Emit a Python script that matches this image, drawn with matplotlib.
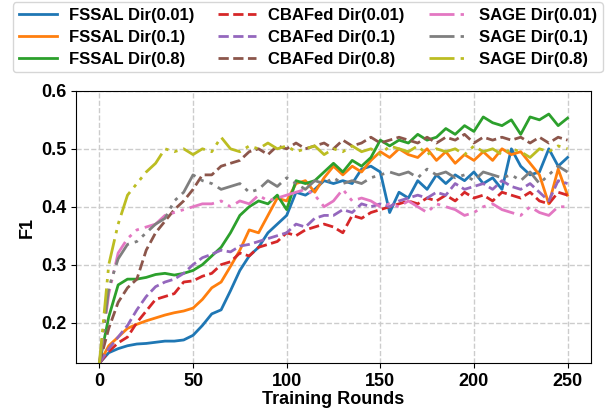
import numpy as np
import matplotlib
matplotlib.use("Agg")
import matplotlib.pyplot as plt

plt.rcParams['font.family'] = ['Liberation Sans', 'DejaVu Sans']
plt.rcParams['font.weight'] = 'bold'

rounds = list(range(0, 251, 5))

fssal_001 = [0.13, 0.148, 0.155, 0.160, 0.163, 0.164, 0.166, 0.168, 0.168, 0.170,
             0.178, 0.195, 0.215, 0.222, 0.255, 0.29, 0.315, 0.33, 0.355, 0.37,
             0.385, 0.425, 0.42, 0.43, 0.445, 0.44, 0.445, 0.44, 0.465, 0.47,
             0.46, 0.39, 0.425, 0.415, 0.445, 0.43, 0.455, 0.44, 0.455, 0.445,
             0.46, 0.44, 0.45, 0.43, 0.50, 0.47, 0.455, 0.46, 0.50, 0.47, 0.485]
fssal_01 = [0.13, 0.16, 0.175, 0.19, 0.197, 0.203, 0.208, 0.213, 0.217, 0.22,
            0.225, 0.24, 0.26, 0.27, 0.297, 0.325, 0.36, 0.355, 0.385, 0.415,
            0.41, 0.44, 0.445, 0.425, 0.45, 0.47, 0.455, 0.47, 0.46, 0.48,
            0.495, 0.485, 0.50, 0.49, 0.485, 0.50, 0.48, 0.495, 0.475, 0.49,
            0.48, 0.495, 0.48, 0.50, 0.49, 0.495, 0.475, 0.455, 0.405, 0.465, 0.42]
fssal_08 = [0.13, 0.21, 0.265, 0.275, 0.275, 0.278, 0.283, 0.285, 0.282, 0.285,
            0.29, 0.30, 0.315, 0.33, 0.355, 0.385, 0.40, 0.41, 0.405, 0.42,
            0.395, 0.445, 0.44, 0.445, 0.46, 0.475, 0.46, 0.48, 0.47, 0.485,
            0.515, 0.505, 0.515, 0.51, 0.525, 0.515, 0.52, 0.535, 0.525, 0.54,
            0.53, 0.555, 0.545, 0.54, 0.55, 0.525, 0.555, 0.55, 0.56, 0.54, 0.553]
cbafed_001 = [0.13, 0.15, 0.165, 0.175, 0.20, 0.22, 0.24, 0.245, 0.25, 0.27,
              0.272, 0.28, 0.285, 0.30, 0.305, 0.32, 0.315, 0.33, 0.335, 0.34,
              0.355, 0.35, 0.36, 0.365, 0.37, 0.365, 0.355, 0.385, 0.38, 0.39,
              0.395, 0.40, 0.405, 0.41, 0.405, 0.415, 0.41, 0.42, 0.41, 0.425,
              0.415, 0.42, 0.41, 0.425, 0.42, 0.415, 0.425, 0.41, 0.405, 0.425, 0.42]
cbafed_01 = [0.13, 0.155, 0.175, 0.195, 0.222, 0.245, 0.262, 0.27, 0.275, 0.285,
             0.30, 0.312, 0.318, 0.325, 0.322, 0.332, 0.335, 0.34, 0.345, 0.35,
             0.355, 0.37, 0.365, 0.38, 0.385, 0.385, 0.395, 0.39, 0.405, 0.40,
             0.405, 0.40, 0.41, 0.415, 0.42, 0.415, 0.425, 0.42, 0.44, 0.43,
             0.435, 0.44, 0.43, 0.445, 0.435, 0.43, 0.44, 0.425, 0.41, 0.445, 0.44]
cbafed_08 = [0.13, 0.19, 0.235, 0.26, 0.275, 0.325, 0.355, 0.375, 0.395, 0.41,
             0.43, 0.455, 0.455, 0.47, 0.475, 0.48, 0.495, 0.50, 0.49, 0.505,
             0.50, 0.51, 0.50, 0.505, 0.51, 0.50, 0.515, 0.505, 0.51, 0.52,
             0.51, 0.515, 0.52, 0.515, 0.51, 0.52, 0.51, 0.52, 0.515, 0.525,
             0.51, 0.52, 0.515, 0.52, 0.515, 0.52, 0.51, 0.52, 0.51, 0.52, 0.515]
sage_001 = [0.13, 0.25, 0.32, 0.345, 0.36, 0.365, 0.37, 0.385, 0.39, 0.395,
            0.40, 0.405, 0.405, 0.41, 0.40, 0.41, 0.405, 0.42, 0.41, 0.415,
            0.42, 0.425, 0.43, 0.42, 0.40, 0.41, 0.43, 0.41, 0.415, 0.41,
            0.40, 0.405, 0.40, 0.41, 0.40, 0.39, 0.405, 0.40, 0.395, 0.385,
            0.39, 0.40, 0.405, 0.395, 0.39, 0.385, 0.40, 0.39, 0.385, 0.40, 0.40]
sage_01 = [0.13, 0.26, 0.31, 0.335, 0.34, 0.355, 0.37, 0.38, 0.41, 0.425,
           0.455, 0.445, 0.44, 0.43, 0.435, 0.44, 0.425, 0.43, 0.445, 0.435,
           0.45, 0.44, 0.43, 0.445, 0.44, 0.45, 0.44, 0.445, 0.44, 0.45,
           0.455, 0.46, 0.455, 0.46, 0.45, 0.465, 0.455, 0.46, 0.45, 0.455,
           0.445, 0.46, 0.455, 0.45, 0.455, 0.445, 0.46, 0.44, 0.455, 0.47, 0.46]
sage_08 = [0.13, 0.30, 0.37, 0.42, 0.44, 0.46, 0.475, 0.50, 0.495, 0.50,
           0.49, 0.50, 0.495, 0.52, 0.50, 0.495, 0.505, 0.50, 0.51, 0.50,
           0.505, 0.495, 0.50, 0.505, 0.49, 0.50, 0.495, 0.505, 0.495, 0.50,
           0.49, 0.505, 0.50, 0.495, 0.505, 0.49, 0.50, 0.495, 0.50, 0.49,
           0.505, 0.495, 0.50, 0.49, 0.50, 0.495, 0.485, 0.50, 0.495, 0.505, 0.50]

labels = ['FSSAL Dir(0.01)', 'FSSAL Dir(0.1)', 'FSSAL Dir(0.8)',
          'CBAFed Dir(0.01)', 'CBAFed Dir(0.1)', 'CBAFed Dir(0.8)',
          'SAGE Dir(0.01)', 'SAGE Dir(0.1)', 'SAGE Dir(0.8)']
series = [fssal_001, fssal_01, fssal_08, cbafed_001, cbafed_01, cbafed_08,
          sage_001, sage_01, sage_08]
colors = ['#1f77b4', '#ff7f0e', '#2ca02c', '#d62728', '#9467bd', '#8c564b',
          '#e377c2', '#7f7f7f', '#bcbd22']
dashdotdot = (0, (9, 2.2, 1.2, 2.2, 1.2, 2.2))
styles = ['-', '-', '-', '--', '--', '--', dashdotdot, dashdotdot, dashdotdot]

fig = plt.figure(figsize=(6.13, 4.15), dpi=100)
ax = fig.add_axes([0.124, 0.125, 0.840, 0.656])

for y, lab, c, ls in zip(series, labels, colors, styles):
    ax.plot(rounds, y, linestyle=ls, color=c, lw=2, label=lab)

ax.set_xlim(-12.5, 262.5)
ax.set_ylim(0.13, 0.6)
ax.set_xticks([0, 50, 100, 150, 200, 250])
ax.set_yticks([0.2, 0.3, 0.4, 0.5, 0.6])
ax.grid(True, linestyle='--', color='#cccccc', lw=1)
ax.tick_params(labelsize=13)
for t in ax.get_xticklabels() + ax.get_yticklabels():
    t.set_fontweight('bold')
ax.set_xlabel('Training Rounds', fontsize=13, fontweight='bold', labelpad=1)
ax.set_ylabel('F1', fontsize=13, fontweight='bold')

leg = ax.legend(loc='lower center', bbox_to_anchor=(0.45, 1.037), ncol=3,
                prop={'weight': 'bold', 'size': 12}, handlelength=2.3,
                handletextpad=0.7, columnspacing=1.45, labelspacing=0.4,
                borderpad=0.35, frameon=True)

fig.savefig('out.png', dpi=100)
